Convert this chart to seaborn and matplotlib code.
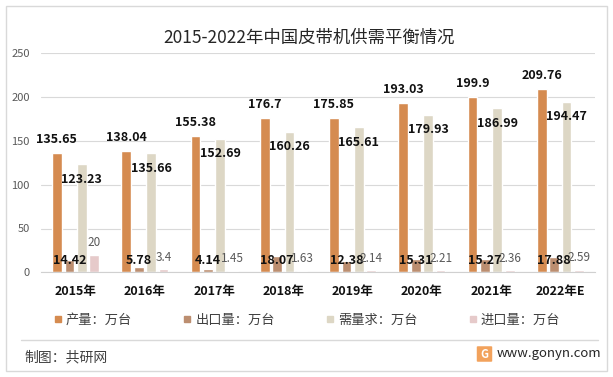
import matplotlib

matplotlib.use("Agg")

import matplotlib.pyplot as plt
import pandas as pd
import seaborn as sns
from matplotlib.lines import Line2D
from matplotlib.patches import FancyBboxPatch, Rectangle

YEARS = ["2015年", "2016年", "2017年", "2018年", "2019年", "2020年", "2021年", "2022年E"]
OUTPUT = [135.65, 138.04, 155.38, 176.7, 175.85, 193.03, 199.9, 209.76]
EXPORT = [14.42, 5.78, 4.14, 18.07, 12.38, 15.31, 15.27, 17.88]
DEMAND = [123.23, 135.66, 152.69, 160.26, 165.61, 179.93, 186.99, 194.47]
IMPORT = [20, 3.4, 1.45, 1.63, 2.14, 2.21, 2.36, 2.59]
SERIES = ["产量：万台", "出口量：万台", "需量求：万台", "进口量：万台"]
COLORS = ["#D58B50", "#BC8E70", "#DDD7C5", "#E6CACA"]
Y_TICKS = [0, 50, 100, 150, 200, 250]

W, H = 613, 377


def build_frame() -> pd.DataFrame:
    rows = []
    for name, values in zip(SERIES, [OUTPUT, EXPORT, DEMAND, IMPORT]):
        for year, value in zip(YEARS, values):
            rows.append({"year": year, "series": name, "value": value})
    return pd.DataFrame(rows)


def add_labels(ax) -> None:
    all_values = [OUTPUT, EXPORT, DEMAND, IMPORT]
    for i, (container, values) in enumerate(zip(ax.containers, all_values)):
        for bar, v in zip(container, values):
            x = bar.get_x() + bar.get_width() / 2
            text = f"{v:g}"
            if i == 0:
                ax.annotate(text, (x, v), xytext=(0, 9.7), textcoords="offset points",
                            ha="center", va="center", fontsize=9, fontweight="bold",
                            color="#111111")
            elif i == 1:
                # export labels sit at a common height near the base
                ax.annotate(text, (x, 14), ha="center", va="center", fontsize=9,
                            fontweight="bold", color="#111111")
            elif i == 2:
                ax.annotate(text, (x, v), xytext=(0, -10.8), textcoords="offset points",
                            ha="center", va="center", fontsize=9, fontweight="bold",
                            color="#111111")
            else:
                ax.annotate(text, (x, v), xytext=(0, 8.8), textcoords="offset points",
                            ha="center", va="center", fontsize=8.5, color="#595959")


def main() -> None:
    sns.set_style("white")
    plt.rcParams["font.family"] = ["Noto Sans CJK SC", "DejaVu Sans"]

    df = build_frame()
    fig, ax = plt.subplots(figsize=(W / 100, H / 100), dpi=100)
    fig.subplots_adjust(left=41 / W, right=595 / W, bottom=1 - 272.3 / H, top=1 - 53.3 / H)

    sns.barplot(
        data=df,
        x="year",
        y="value",
        hue="series",
        order=YEARS,
        hue_order=SERIES,
        palette=COLORS,
        saturation=1,
        width=0.72,
        gap=0.22,
        legend=False,
        ax=ax,
    )

    ax.set_ylim(0, 250)
    ax.set_yticks(Y_TICKS)
    ax.set_xlim(-0.5, len(YEARS) - 0.5)
    ax.set_xlabel("")
    ax.set_ylabel("")
    ax.yaxis.grid(True, color="#D9D9D9", lw=0.8)
    ax.set_axisbelow(True)
    for side in ["top", "right", "left"]:
        ax.spines[side].set_visible(False)
    ax.spines["bottom"].set_color("#D0D0D0")
    ax.spines["bottom"].set_linewidth(0.8)
    ax.tick_params(axis="y", length=0, pad=8, labelsize=8, labelcolor="#595959")
    ax.tick_params(axis="x", length=0, pad=9, labelsize=9, labelcolor="#111111")
    for lbl in ax.get_xticklabels():
        lbl.set_fontweight("bold")

    add_labels(ax)

    fig.text(309 / W, 1 - 38 / H, "2015-2022年中国皮带机供需平衡情况", ha="center", va="center",
             fontsize=12.5, color="#262626")

    handles = [Line2D([], [], marker="s", ls="", color=c, markersize=4.5) for c in COLORS]
    fig.legend(handles, SERIES, loc="center", bbox_to_anchor=(307 / W, 1 - 320 / H), ncol=4,
               frameon=False, fontsize=9.5, handlelength=0.6, handletextpad=0.3,
               columnspacing=3.9, labelcolor="#404040")

    fig.add_artist(Rectangle((6 / W, 6 / H), 601 / W, 365 / H, transform=fig.transFigure,
                             fill=False, ec="#D9D9D9", lw=1))
    fig.add_artist(Line2D([21 / W, 598 / W], [1 - 340 / H] * 2, transform=fig.transFigure,
                          color="#D9D9D9", lw=1))

    fig.text(24 / W, 1 - 357 / H, "制图：共研网", ha="left", va="center", fontsize=10,
             color="#404040")
    fig.add_artist(FancyBboxPatch((478 / W, 1 - 361 / H), 13 / W, 14 / H,
                                  boxstyle="round,pad=0.002", transform=fig.transFigure,
                                  fc="#F2A25C", ec="none"))
    fig.text(484.5 / W, 1 - 354 / H, "G", ha="center", va="center", fontsize=8,
             fontweight="bold", color="white")
    fig.text(497 / W, 1 - 354 / H, "www.gonyn.com", ha="left", va="center", fontsize=9.5,
             color="#262626")

    fig.savefig("out.png", dpi=100)
    plt.close(fig)


if __name__ == "__main__":
    main()
